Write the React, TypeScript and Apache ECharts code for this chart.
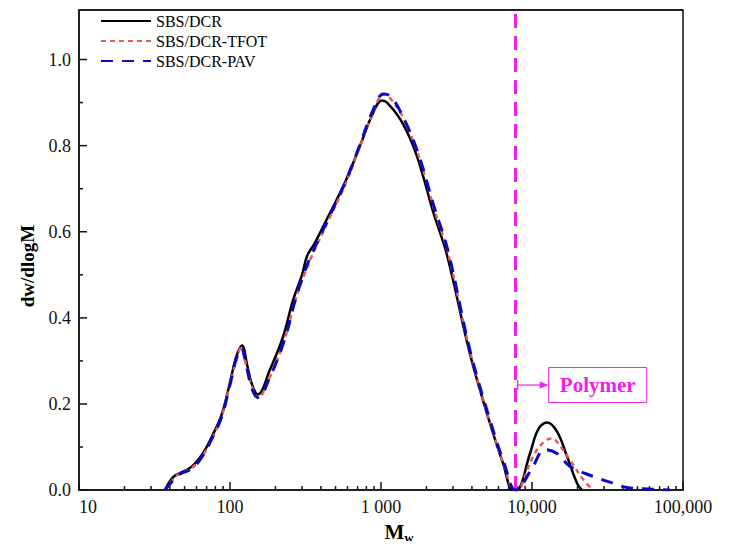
import React, { useEffect, useRef } from "react";
import * as echarts from "echarts";

// Molecular weight (Mw) vs dw/dlogM
const sbsDcr: [number, number][] = [
  [37, 0], [42, 0.03], [47, 0.04], [56, 0.055], [66, 0.085], [76, 0.125], [88, 0.175],
  [100, 0.25], [110, 0.31], [120, 0.336], [130, 0.29], [140, 0.245], [153, 0.222],
  [184, 0.28], [224, 0.355], [261, 0.44], [300, 0.5], [324, 0.544], [366, 0.575],
  [439, 0.63], [578, 0.715], [727, 0.8], [872, 0.87], [1016, 0.905], [1097, 0.9],
  [1337, 0.862], [1630, 0.8], [1898, 0.73], [2210, 0.647], [2735, 0.546], [3885, 0.316],
  [5270, 0.155], [6430, 0.062], [7480, 0], [7900, 0], [9700, 0.085], [10960, 0.14],
  [12570, 0.157], [14650, 0.136], [17060, 0.078], [19870, 0.016], [21440, 0],
];

const sbsDcrTfot: [number, number][] = [
  [37, 0], [42, 0.025], [47, 0.04], [56, 0.052], [66, 0.08], [76, 0.12], [88, 0.17],
  [100, 0.245], [110, 0.3], [118, 0.33], [128, 0.29], [140, 0.24], [153, 0.215],
  [185, 0.265], [230, 0.35], [270, 0.44], [310, 0.5], [350, 0.545], [440, 0.62],
  [580, 0.71], [730, 0.8], [880, 0.875], [1050, 0.92], [1150, 0.91], [1380, 0.87],
  [1680, 0.8], [1950, 0.73], [2260, 0.65], [2780, 0.55], [3900, 0.32], [5300, 0.155],
  [6500, 0.06], [7700, 0], [8300, 0.003], [8600, 0.015], [10160, 0.078], [12000, 0.112],
  [13550, 0.12], [15500, 0.1], [17870, 0.07], [21780, 0.025], [25350, 0],
];

const sbsDcrPav: [number, number][] = [
  [37, 0], [42, 0.022], [47, 0.038], [56, 0.05], [66, 0.08], [76, 0.12], [88, 0.17],
  [100, 0.245], [110, 0.305], [119, 0.33], [128, 0.29], [140, 0.235], [153, 0.215],
  [185, 0.265], [230, 0.35], [270, 0.44], [310, 0.505], [350, 0.55], [440, 0.625],
  [580, 0.715], [730, 0.805], [880, 0.88], [1040, 0.92], [1150, 0.915], [1340, 0.88],
  [1730, 0.79], [2260, 0.655], [2780, 0.555], [3900, 0.322], [5300, 0.16], [6500, 0.065],
  [7800, 0], [8340, 0.005], [10160, 0.055], [12190, 0.094], [14650, 0.085],
  [17870, 0.055], [25350, 0.032], [34360, 0.016], [42560, 0.006], [62400, 0.002],
  [82000, 0],
];

const seriesNames = ["SBS/DCR", "SBS/DCR-TFOT", "SBS/DCR-PAV"];
const xTickLabels: Record<number, string> = {
  1: "10",
  2: "100",
  3: "1 000",
  4: "10,000",
  5: "100,000",
};
const xMajorTicks = [10, 100, 1000, 10000, 100000];
const xMinorTicks: number[] = [];
for (const decade of [10, 100, 1000, 10000]) {
  for (const k of [2, 3, 4, 5, 6, 7, 8, 9]) xMinorTicks.push(k * decade);
}
const yMajorTicks = [0, 0.2, 0.4, 0.6, 0.8, 1.0];
const yMinorTicks = [0.1, 0.3, 0.5, 0.7, 0.9];
const yTop = 1.115;
const polymerLineM = 7800;
const polymerLabelY = 0.244;
const polymerText = "Polymer";

const FONT = "'Liberation Serif', 'Times New Roman', serif";
const MAGENTA = "#f020e6";
const INK = "#111111";

export default function App() {
  const ref = useRef<HTMLDivElement>(null);
  useEffect(() => {
    if (!ref.current) return;
    const chart = echarts.init(ref.current, null, { renderer: "svg" });
    const option: any = {
      animation: false,
      backgroundColor: "#fff",
      grid: {
        left: 79,
        right: 55,
        top: 10,
        bottom: 55,
        show: true,
        borderColor: INK,
        borderWidth: 1.5,
        backgroundColor: "transparent",
      },
      legend: {
        data: seriesNames,
        orient: "vertical",
        left: 95,
        top: 8,
        itemWidth: 50,
        itemHeight: 14,
        itemGap: 4,
        itemStyle: { opacity: 0 },
        textStyle: { fontFamily: FONT, fontSize: 16, color: "#000" },
      },
      xAxis: {
        type: "log",
        logBase: 10,
        min: 10,
        max: 100000,
        name: "{m|M}{s|w}",
        nameLocation: "middle",
        nameGap: 24,
        nameTextStyle: {
          padding: [0, 0, 0, 36],
          rich: {
            m: { fontFamily: FONT, fontSize: 21, fontWeight: "bold", color: "#000" },
            s: {
              fontFamily: FONT,
              fontSize: 13,
              fontWeight: "bold",
              color: "#000",
              padding: [12, 0, 0, 0],
            },
          },
        },
        axisLine: { show: true, lineStyle: { color: INK, width: 1.5 } },
        axisTick: { show: false },
        minorTick: { show: false },
        axisLabel: {
          fontFamily: FONT,
          fontSize: 18,
          color: "#111",
          margin: 8,
          alignMinLabel: "left",
          formatter: (v: number) => xTickLabels[Math.round(Math.log10(v))] ?? "",
        },
        splitLine: { show: false },
      },
      yAxis: {
        type: "value",
        min: 0,
        max: yTop,
        interval: 0.2,
        name: "dw/dlogM",
        nameLocation: "middle",
        nameGap: 42,
        nameRotate: 90,
        nameTextStyle: {
          fontFamily: FONT,
          fontSize: 19,
          fontWeight: "bold",
          color: "#000",
          padding: [0, 32, 0, 0],
        },
        axisLine: { show: true, lineStyle: { color: INK, width: 1.5 } },
        axisTick: { show: false },
        minorTick: { show: false },
        axisLabel: {
          fontFamily: FONT,
          fontSize: 18,
          color: "#111",
          margin: 8,
          showMaxLabel: false,
          formatter: (v: number) =>
            Math.abs(v * 5 - Math.round(v * 5)) < 1e-6 ? v.toFixed(1) : "",
        },
        splitLine: { show: false },
      },
      series: [
        {
          name: seriesNames[0],
          type: "line",
          data: sbsDcr,
          symbol: "none",
          smooth: 0.4,
          lineStyle: { color: "#000", width: 2.5 },
          itemStyle: { color: "#000" },
          z: 3,
          markLine: {
            symbol: "none",
            silent: true,
            label: { show: false },
            lineStyle: { color: MAGENTA, width: 3, type: [14, 8] },
            data: [{ xAxis: polymerLineM }],
          },
        },
        {
          name: seriesNames[1],
          type: "line",
          data: sbsDcrTfot,
          symbol: "none",
          smooth: 0.4,
          lineStyle: { color: "#e35a5e", width: 2.5, type: [5, 4] },
          itemStyle: { color: "#e35a5e" },
          z: 4,
        },
        {
          name: seriesNames[2],
          type: "line",
          data: sbsDcrPav,
          symbol: "none",
          smooth: 0.4,
          lineStyle: { color: "#0a0ac4", width: 3, type: [12, 9] },
          itemStyle: { color: "#0a0ac4" },
          z: 5,
        },
      ],
    };
    chart.setOption(option);

    const toPx = (m: number, v: number) =>
      chart.convertToPixel({ xAxisIndex: 0, yAxisIndex: 0 }, [m, v]) as number[];
    const ticks: any[] = [];
    const addX = (m: number, len: number) => {
      const q = toPx(m, 0);
      ticks.push({
        type: "line",
        shape: { x1: q[0], y1: q[1] - 0.5, x2: q[0], y2: q[1] - len },
        style: { stroke: INK, lineWidth: 1.5 },
      });
    };
    const addY = (v: number, len: number) => {
      const q = toPx(10, v);
      ticks.push({
        type: "line",
        shape: { x1: q[0] + 0.5, y1: q[1], x2: q[0] + len, y2: q[1] },
        style: { stroke: INK, lineWidth: 1.5 },
      });
    };
    xMajorTicks.forEach((m) => addX(m, 8));
    xMinorTicks.forEach((m) => addX(m, 4));
    yMajorTicks.forEach((v) => addY(v, 8));
    yMinorTicks.forEach((v) => addY(v, 4));
    const tl = toPx(10, yTop);
    const tr = toPx(100000, yTop);
    ticks.push({
      type: "line",
      shape: { x1: tl[0], y1: tl[1], x2: tr[0], y2: tr[1] },
      style: { stroke: INK, lineWidth: 1.5 },
    });

    const p = toPx(polymerLineM, polymerLabelY);
    const x0 = p[0] + 2;
    const y0 = p[1];
    chart.setOption({
      graphic: [
        ...ticks,
        {
          type: "line",
          shape: { x1: x0, y1: y0 - 5, x2: x0, y2: y0 + 5 },
          style: { stroke: MAGENTA, lineWidth: 1.2 },
        },
        {
          type: "line",
          shape: { x1: x0, y1: y0, x2: x0 + 24, y2: y0 },
          style: { stroke: MAGENTA, lineWidth: 1.2 },
        },
        {
          type: "polygon",
          shape: { points: [[x0 + 31, y0], [x0 + 22, y0 - 3.5], [x0 + 22, y0 + 3.5]] },
          style: { fill: MAGENTA },
        },
        {
          type: "rect",
          shape: { x: x0 + 31, y: y0 - 17.5, width: 98, height: 35 },
          style: { fill: "#fff", stroke: MAGENTA, lineWidth: 1 },
        },
        {
          type: "text",
          x: x0 + 80,
          y: y0,
          style: {
            text: polymerText,
            fill: MAGENTA,
            font: `bold 21px ${FONT}`,
            align: "center",
            verticalAlign: "middle",
          },
        },
      ],
    });
    return () => chart.dispose();
  }, []);
  return <div ref={ref} style={{ width: 738, height: 549, margin: -8 }} />;
}
